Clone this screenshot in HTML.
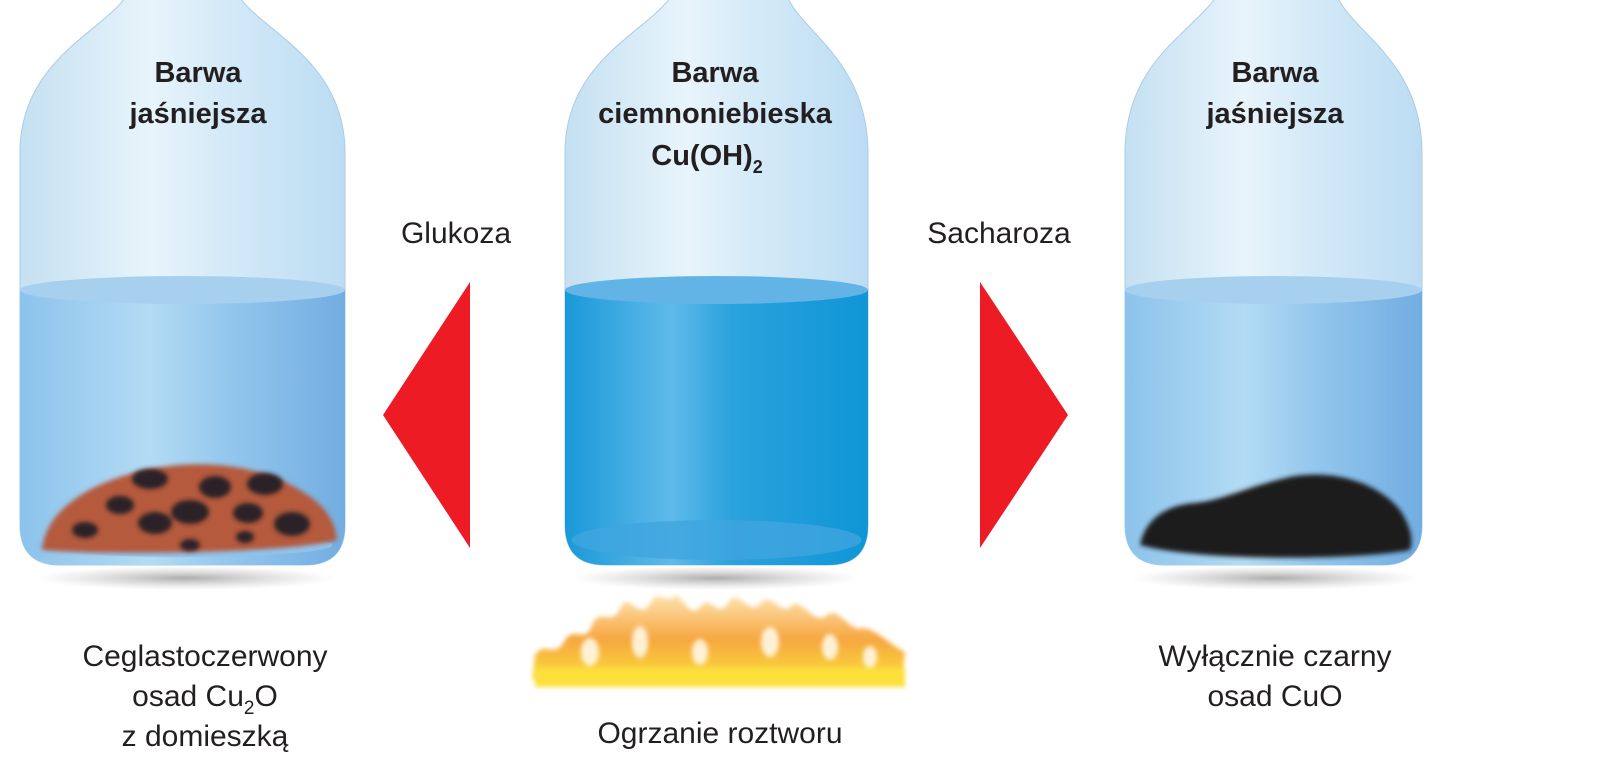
<!DOCTYPE html>
<html><head><meta charset="utf-8"><style>
html,body{margin:0;padding:0;background:#fff;}
svg{display:block}
text{font-family:"Liberation Sans","DejaVu Sans",sans-serif;fill:#231f20}
</style></head><body>
<svg width="1600" height="768" viewBox="0 0 1600 768" xmlns="http://www.w3.org/2000/svg">
<defs>
<linearGradient id="glass" x1="0" x2="1" y1="0" y2="0">
<stop offset="0" stop-color="#c4e0f2"/><stop offset="0.4" stop-color="#e8f4fb"/><stop offset="0.6" stop-color="#d6ebf8"/><stop offset="1" stop-color="#bcdcf3"/>
</linearGradient>
<linearGradient id="liqL" x1="0" x2="1" y1="0" y2="0">
<stop offset="0" stop-color="#8cc3ec"/><stop offset="0.4" stop-color="#b3dbf4"/><stop offset="0.65" stop-color="#92c6ec"/><stop offset="1" stop-color="#72ade2"/>
</linearGradient>
<linearGradient id="liqM" x1="0" x2="1" y1="0" y2="0">
<stop offset="0" stop-color="#1a98d8"/><stop offset="0.35" stop-color="#5fbaea"/><stop offset="0.55" stop-color="#2aa2dd"/><stop offset="1" stop-color="#0f96d6"/>
</linearGradient>
<radialGradient id="shadow"><stop offset="0" stop-color="#999" stop-opacity="0.8"/><stop offset="1" stop-color="#bbb" stop-opacity="0"/></radialGradient>
<linearGradient id="fire" x1="0" x2="0" y1="0" y2="1">
<stop offset="0" stop-color="#fde3b0"/><stop offset="0.5" stop-color="#f7a640"/><stop offset="1" stop-color="#fbe23a"/>
</linearGradient>
<filter id="blur"><feGaussianBlur stdDeviation="2.5"/></filter>
</defs>

<ellipse cx="185" cy="578" rx="150" ry="12" fill="url(#shadow)"/>
<ellipse cx="716" cy="578" rx="145" ry="12" fill="url(#shadow)"/>
<ellipse cx="1275" cy="578" rx="145" ry="12" fill="url(#shadow)"/>

<!-- left flask -->
<path d="M130 -10 C110 30 22 55 20 150 L20 525 Q20 565 60 565 L305 565 Q345 565 345 525 L345 150 C343 55 255 30 235 -10 Z" fill="url(#glass)" stroke="#a9cde6" stroke-width="1"/>
<path d="M20 290 L20 525 Q20 565 60 565 L305 565 Q345 565 345 525 L345 290 Z" fill="url(#liqL)"/>
<ellipse cx="182.5" cy="290" rx="162.5" ry="14" fill="#a7d0ef"/>
<ellipse cx="182.5" cy="545" rx="150" ry="12" fill="#8fc4ec"/>
<path d="M42 550 C45 515 80 485 145 470 C200 458 260 465 300 490 C325 505 335 520 337 540 C300 552 120 556 42 550 Z" fill="#b55a3c" filter="url(#blur)"/>
<g fill="#2a2426" filter="url(#blur)">
<ellipse cx="150" cy="479" rx="18" ry="10"/><ellipse cx="215" cy="487" rx="16" ry="11"/><ellipse cx="265" cy="484" rx="18" ry="11"/>
<ellipse cx="120" cy="505" rx="14" ry="9"/><ellipse cx="190" cy="512" rx="19" ry="12"/><ellipse cx="248" cy="513" rx="15" ry="10"/>
<ellipse cx="85" cy="530" rx="13" ry="8"/><ellipse cx="155" cy="523" rx="17" ry="11"/><ellipse cx="292" cy="524" rx="18" ry="12"/>
<ellipse cx="190" cy="545" rx="10" ry="6"/><ellipse cx="245" cy="537" rx="9" ry="6"/>
</g>

<!-- middle flask -->
<path d="M675 -10 C655 30 567 55 565 150 L565 525 Q565 565 605 565 L828 565 Q868 565 868 525 L868 150 C866 55 795 30 785 -10 Z" fill="url(#glass)" stroke="#a9cde6" stroke-width="1"/>
<path d="M565 290 L565 525 Q565 565 605 565 L828 565 Q868 565 868 525 L868 290 Z" fill="url(#liqM)"/>
<ellipse cx="716.5" cy="290" rx="151.5" ry="14" fill="#62b4e6"/>
<ellipse cx="716.5" cy="540" rx="145" ry="20" fill="#40a5df" opacity="0.8"/>

<!-- right flask -->
<path d="M1220 -10 C1200 30 1127 55 1125 150 L1125 525 Q1125 565 1165 565 L1382 565 Q1422 565 1422 525 L1422 150 C1420 55 1345 30 1335 -10 Z" fill="url(#glass)" stroke="#a9cde6" stroke-width="1"/>
<path d="M1125 290 L1125 525 Q1125 565 1165 565 L1382 565 Q1422 565 1422 525 L1422 290 Z" fill="url(#liqL)"/>
<ellipse cx="1273.5" cy="290" rx="148.5" ry="14" fill="#a7d0ef"/>
<path d="M1140 545 C1145 520 1165 505 1195 503 C1225 500 1250 485 1295 476 C1340 470 1380 485 1400 510 C1410 525 1414 540 1410 550 C1360 560 1200 562 1140 545 Z" fill="#1e1a1c" filter="url(#blur)"/>

<polygon points="470,282 470,548 383,415" fill="#ed1c24"/>
<polygon points="980,282 980,548 1068,415" fill="#ed1c24"/>

<!-- flame -->
<g filter="url(#blur)">
<path d="M532 680 L535 655 C545 640 555 660 565 640 C575 625 585 645 592 625 C600 605 612 630 622 605 C630 592 640 625 652 600 C658 590 668 605 676 595 C685 600 690 620 702 605 C712 595 718 622 730 600 C740 590 750 618 762 602 C772 592 782 618 792 605 C802 598 815 628 828 614 C840 608 850 632 862 628 C875 628 890 645 905 652 L902 684 Z" fill="url(#fire)"/>
<path d="M535 687 L905 687 L905 668 L535 668 Z" fill="#fbe03a"/>
</g>
<g fill="#fff8e6" opacity="0.9" filter="url(#blur)">
<ellipse cx="590" cy="652" rx="9" ry="14"/><ellipse cx="640" cy="642" rx="8" ry="16"/><ellipse cx="700" cy="652" rx="8" ry="13"/><ellipse cx="770" cy="642" rx="9" ry="15"/><ellipse cx="830" cy="647" rx="8" ry="13"/><ellipse cx="870" cy="657" rx="7" ry="11"/>
</g>

<g font-weight="bold" font-size="29" text-anchor="middle">
<text x="198" y="82">Barwa</text>
<text x="198" y="123">jaśniejsza</text>
<text x="715" y="82">Barwa</text>
<text x="715" y="123">ciemnoniebieska</text>
<text x="707" y="165">Cu(OH)<tspan font-size="18" dy="8">2</tspan></text>
<text x="1275" y="82">Barwa</text>
<text x="1275" y="123">jaśniejsza</text>
</g>
<g font-size="30" text-anchor="middle">
<text x="456" y="243">Glukoza</text>
<text x="999" y="243">Sacharoza</text>
<text x="205" y="666">Ceglastoczerwony</text>
<text x="205" y="706">osad Cu<tspan font-size="19" dy="8">2</tspan><tspan dy="-8">O</tspan></text>
<text x="205" y="746">z domieszką</text>
<text x="720" y="743">Ogrzanie roztworu</text>
<text x="1275" y="666">Wyłącznie czarny</text>
<text x="1275" y="706">osad CuO</text>
</g>
</svg>
</body></html>
